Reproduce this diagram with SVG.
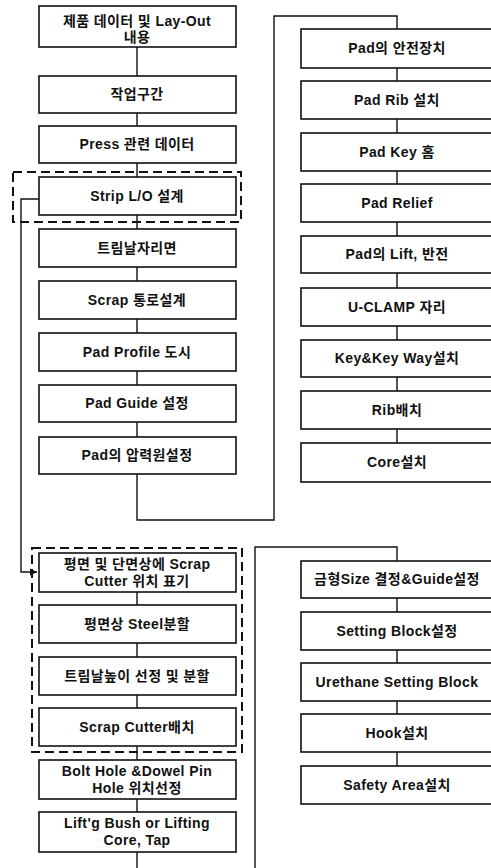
<svg xmlns="http://www.w3.org/2000/svg" width="491" height="868" viewBox="0 0 491 868">
<style>
.box{fill:#fff;stroke:#111;stroke-width:1.6}
.t{font-family:"Liberation Sans","Noto Sans CJK KR",sans-serif;font-weight:bold;font-size:14px;letter-spacing:0.4px;fill:#111;text-anchor:middle}
.c{fill:none;stroke:#111;stroke-width:1.4}
.d{fill:none;stroke:#111;stroke-width:2;stroke-dasharray:9 5}
</style>
<defs>
<marker id="ah" markerWidth="8" markerHeight="8" refX="7" refY="4" orient="auto" markerUnits="userSpaceOnUse">
<path d="M0,0.5 L7,4 L0,7.5 Z" fill="#111"/>
</marker>
</defs>
<rect width="491" height="868" fill="#fff"/>
<g id="connectors">
<path class="c" d="M137,47 V76 M137,113 V126 M137,163 V177 M137,215 V229 M137,267 V281 M137,319 V333 M137,371 V385 M137,422 V437"/>
<path class="c" d="M137,474 V520 H274 V16 H397 V29"/>
<path class="c" d="M397,68 V81 M397,119 V133 M397,171 V184 M397,222 V236 M397,273 V288 M397,326 V340 M397,377 V391 M397,429 V443"/>
<path class="c" d="M39,199 H21 V572 H37" marker-end="url(#ah)"/>
<path class="c" d="M137,592 V605 M137,643 V657 M137,695 V708 M137,746 V760 M137,799 V812 M137,852 V868"/>
<path class="c" d="M255,868 V547 H397 V561"/>
<path class="c" d="M397,598 V612 M397,650 V663 M397,701 V714 M397,752 V766"/>
<rect class="d" x="13" y="172" width="228" height="50"/>
<rect class="d" x="32" y="548" width="210" height="204"/>
</g>
<g id="n1"><rect class="box" x="39" y="6" width="197" height="41"/><text class="t" x="137" y="26">제품 데이터 및 Lay-Out</text><text class="t" x="137" y="42">내용</text></g>
<g id="n2"><rect class="box" x="39" y="76" width="197" height="37"/><text class="t" x="137" y="99">작업구간</text></g>
<g id="n3"><rect class="box" x="39" y="126" width="197" height="37"/><text class="t" x="137" y="149">Press 관련 데이터</text></g>
<g id="n4"><rect class="box" x="39" y="177" width="197" height="38"/><text class="t" x="137" y="201">Strip L/O 설계</text></g>
<g id="n5"><rect class="box" x="39" y="229" width="197" height="38"/><text class="t" x="137" y="253">트림날자리면</text></g>
<g id="n6"><rect class="box" x="39" y="281" width="197" height="38"/><text class="t" x="137" y="305">Scrap 통로설계</text></g>
<g id="n7"><rect class="box" x="39" y="333" width="197" height="38"/><text class="t" x="137" y="357">Pad Profile 도시</text></g>
<g id="n8"><rect class="box" x="39" y="385" width="197" height="37"/><text class="t" x="137" y="408">Pad Guide 설정</text></g>
<g id="n9"><rect class="box" x="39" y="437" width="197" height="37"/><text class="t" x="137" y="460">Pad의 압력원설정</text></g>
<g id="r1"><rect class="box" x="301" y="29" width="194" height="39"/><text class="t" x="397" y="53">Pad의 안전장치</text></g>
<g id="r2"><rect class="box" x="301" y="81" width="194" height="38"/><text class="t" x="397" y="105">Pad Rib 설치</text></g>
<g id="r3"><rect class="box" x="301" y="133" width="194" height="38"/><text class="t" x="397" y="157">Pad Key 홈</text></g>
<g id="r4"><rect class="box" x="301" y="184" width="194" height="38"/><text class="t" x="397" y="208">Pad Relief</text></g>
<g id="r5"><rect class="box" x="301" y="236" width="194" height="37"/><text class="t" x="397" y="259">Pad의 Lift, 반전</text></g>
<g id="r6"><rect class="box" x="301" y="288" width="194" height="38"/><text class="t" x="397" y="312">U-CLAMP 자리</text></g>
<g id="r7"><rect class="box" x="301" y="340" width="194" height="37"/><text class="t" x="397" y="363">Key&amp;Key Way설치</text></g>
<g id="r8"><rect class="box" x="301" y="391" width="194" height="38"/><text class="t" x="397" y="415">Rib배치</text></g>
<g id="r9"><rect class="box" x="301" y="443" width="194" height="39"/><text class="t" x="397" y="467">Core설치</text></g>
<g id="b1"><rect class="box" x="39" y="553" width="197" height="39"/><text class="t" x="137" y="569">평면 및 단면상에 Scrap</text><text class="t" x="137" y="586">Cutter 위치 표기</text></g>
<g id="b2"><rect class="box" x="39" y="605" width="197" height="38"/><text class="t" x="137" y="629">평면상 Steel분할</text></g>
<g id="b3"><rect class="box" x="39" y="657" width="197" height="38"/><text class="t" x="137" y="681">트림날높이 선정 및 분할</text></g>
<g id="b4"><rect class="box" x="39" y="708" width="197" height="38"/><text class="t" x="137" y="732">Scrap Cutter배치</text></g>
<g id="b5"><rect class="box" x="39" y="760" width="197" height="39"/><text class="t" x="137" y="776">Bolt Hole &amp;Dowel Pin</text><text class="t" x="137" y="793">Hole 위치선정</text></g>
<g id="b6"><rect class="box" x="39" y="812" width="197" height="40"/><text class="t" x="137" y="828">Lift'g Bush or Lifting</text><text class="t" x="137" y="845">Core, Tap</text></g>
<g id="s1"><rect class="box" x="301" y="561" width="194" height="37"/><text class="t" x="397" y="584">금형Size 결정&amp;Guide설정</text></g>
<g id="s2"><rect class="box" x="301" y="612" width="194" height="38"/><text class="t" x="397" y="636">Setting Block설정</text></g>
<g id="s3"><rect class="box" x="301" y="663" width="194" height="38"/><text class="t" x="397" y="687">Urethane Setting Block</text></g>
<g id="s4"><rect class="box" x="301" y="714" width="194" height="38"/><text class="t" x="397" y="738">Hook설치</text></g>
<g id="s5"><rect class="box" x="301" y="766" width="194" height="38"/><text class="t" x="397" y="790">Safety Area설치</text></g>
</svg>
